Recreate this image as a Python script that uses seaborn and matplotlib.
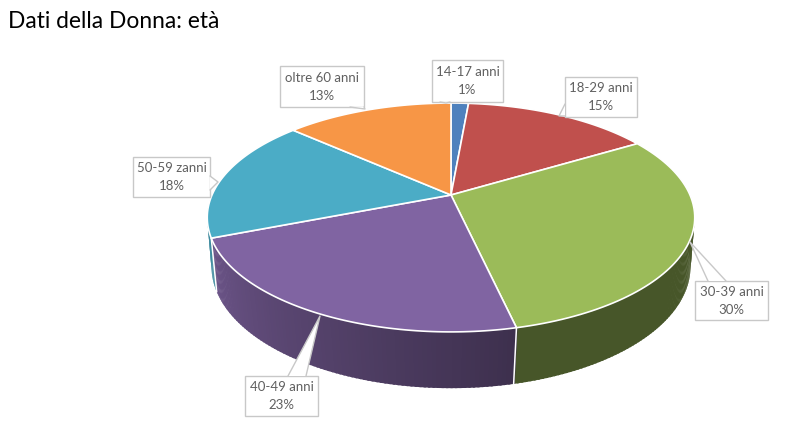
#!/usr/bin/env python

import numpy as np
import matplotlib
matplotlib.use('Agg')
import matplotlib.pyplot as plt
import seaborn as sns

title = 'Dati della Donna: età'
categories = ['14-17 anni', '18-29 anni', '30-39 anni', '40-49 anni', '50-59 zanni', 'oltre 60 anni']
# the labels round these
values = [1.4, 15.0, 30.0, 22.6, 17.5, 13.4]

colors = sns.color_palette(['#4F81BD', '#C0504D', '#9BBB59', '#8064A2', '#4BACC6', '#F79646'])
# wall brightness at start and end of each slice
wall_shade = [(.5, .5), (.5, .5), (.46, .46), (.48, .84), (.8, .8), (.8, .8)]

# callout box x0, y0, x1, y1 and pointer tip, base a, base b
boxes = [(432, 60, 503, 102), (565, 77, 637, 117), (695, 281, 768, 320),
         (245, 376, 318, 416), (133, 157, 210, 197), (280, 66, 364, 107)]
pointers = [((446, 103), (440, 102), (450, 102)),
            ((559, 116), (565, 104), (565, 116)),
            ((690, 242), (708, 281), (726, 281)),
            ((320, 316), (288, 376), (306, 376)),
            ((218, 182), (210, 176), (210, 190)),
            ((365, 109), (350, 107), (364, 107))]


def project(theta, cx=451., cy=195., b=239., a=110., k=.1965):
    # clockwise from the top, circle seen in perspective
    u, v = np.sin(theta), np.cos(theta)
    d = 1 + k * v
    return cx + b * u / d, cy - a * v / d


def project_low(theta):
    return project(theta, cy=246., b=236., a=118., k=.17)


sns.set_theme(style='white')
plt.rcParams['font.family'] = ['Lato', 'DejaVu Sans']

fig = plt.figure(figsize=(8, 4.4), dpi=100)
ax = fig.add_axes([0, 0, 1, 1])
ax.set_xlim(0, 800)
ax.set_ylim(440, 0)
ax.axis('off')

edges = 2 * np.pi * np.concatenate([[0], np.cumsum(values)]) / sum(values)

# walls first, back to front, only the front part can show
quads = []
for i in range(len(values)):
    t = np.linspace(edges[i], edges[i + 1], max(int(values[i] * 4), 3) + 1)
    for j in range(len(t) - 1):
        f = j / (len(t) - 2) if len(t) > 2 else 0
        s = wall_shade[i][0] + (wall_shade[i][1] - wall_shade[i][0]) * f
        mid = (t[j] + t[j + 1]) / 2
        if np.cos(mid) < .1:
            quads.append((-np.cos(mid), t[j], t[j + 1], np.array(colors[i]) * s))
quads.sort(key=lambda q: q[0])
for _, t0, t1, c in quads:
    tt = np.linspace(t0 - .004, t1 + .004, 4)
    x0, y0 = project(tt)
    x1, y1 = project_low(tt)
    ax.fill(np.r_[x0, x1[::-1]], np.r_[y0, y1[::-1]], facecolor=c, edgecolor='none')

for t in edges[3:5]:
    x0, y0 = project(t)
    x1, y1 = project_low(t)
    ax.plot([x0, x1], [y0, y1], color='white', lw=1.1)

# top face
for i in range(len(values)):
    t = np.linspace(edges[i], edges[i + 1], 80)
    x, y = project(t)
    ax.fill(np.r_[451, x], np.r_[195, y], facecolor=colors[i], edgecolor='white', lw=1.2, joinstyle='round')

# callouts
for name, v, box, p in zip(categories, values, boxes, pointers):
    x0, y0, x1, y1 = box
    ax.fill([x0, x1, x1, x0], [y0, y0, y1, y1], facecolor='white', edgecolor='#c8c8c8', lw=1)
    tip, a, b = p
    ax.fill([a[0], tip[0], b[0]], [a[1], tip[1], b[1]], facecolor='white', edgecolor='none')
    ax.plot([a[0], tip[0], b[0]], [a[1], tip[1], b[1]], color='#c8c8c8', lw=1)
    ax.text((x0 + x1) / 2, (y0 + y1) / 2, f'{name}\n{v:.0f}%', ha='center', va='center',
            fontsize=9.5, color='#606060', linespacing=1.6)

ax.text(8, 21, title, fontsize=16.4, color='black', ha='left', va='center')

fig.savefig('out.png', dpi=100)
